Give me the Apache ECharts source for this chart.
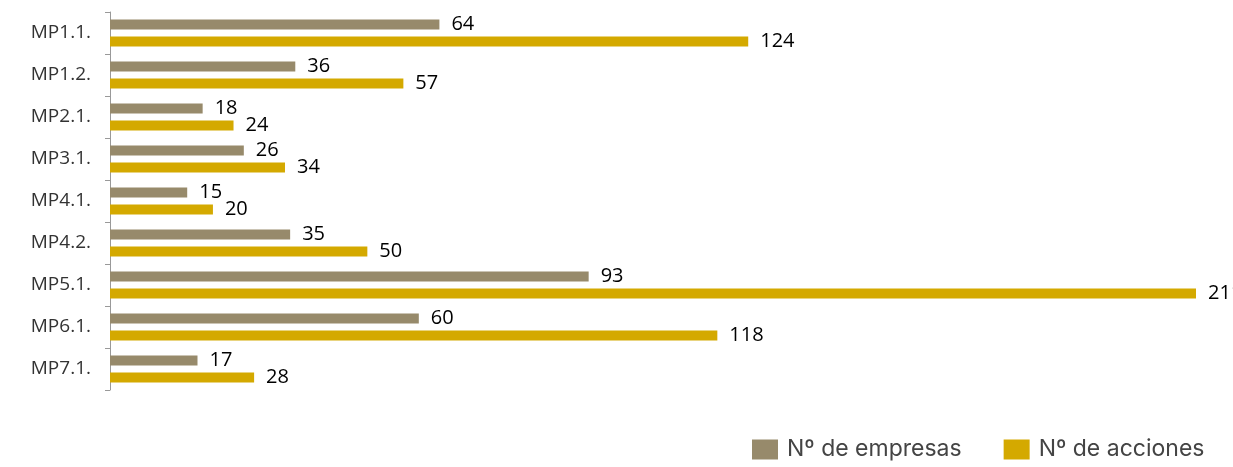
<!DOCTYPE html>
<html>
<head>
<meta charset="utf-8">
<script src="https://cdn.jsdelivr.net/npm/echarts@6/dist/echarts.min.js"></script>
<style>
  html, body { margin: 0; padding: 0; background: #fff; }
  #main { width: 1233px; height: 467px; }
</style>
</head>
<body>
<div id="main"></div>
<script>
// categorias (de arriba abajo)
const categories = ['MP1.1.', 'MP1.2.', 'MP2.1.', 'MP3.1.', 'MP4.1.', 'MP4.2.', 'MP5.1.', 'MP6.1.', 'MP7.1.']
const empresas = [64, 36, 18, 26, 15, 35, 93, 60, 17]
const acciones = [124, 57, 24, 34, 20, 50, 211, 118, 28]

const myChart = echarts.init(document.getElementById('main'))

const labelStyle = {
  show: true,
  position: 'right',
  distance: 12,
  color: '#000',
  fontSize: 20,
  fontWeight: 500,
  fontFamily: 'Open Sans'
}

const option = {
  animation: false,
  textStyle: { fontFamily: 'Open Sans' },
  legend: {
    top: 433,
    left: 747,
    itemWidth: 26,
    itemHeight: 20,
    itemGap: 42,
    icon: 'rect',
    textStyle: { color: '#444', fontSize: 23, fontFamily: 'Inter', padding: [0, 0, 0, 4] },
    data: ['Nº de empresas', 'Nº de acciones']
  },
  grid: {
    left: 110,
    right: 37,
    top: 12,
    bottom: 77
  },
  xAxis: {
    type: 'value',
    min: 0,
    max: 211,
    show: false
  },
  yAxis: {
    type: 'category',
    inverse: true,
    data: categories,
    axisLine: { show: true, lineStyle: { color: '#999', width: 1 } },
    axisTick: { show: true, length: 5, lineStyle: { color: '#999' } },
    axisLabel: { color: '#333', fontSize: 19, margin: 19, fontFamily: 'Open Sans' }
  },
  series: [
    {
      name: 'Nº de empresas',
      type: 'bar',
      data: empresas,
      barWidth: 10,
      barGap: '70%',
      itemStyle: { color: '#978a6b' },
      label: labelStyle
    },
    {
      name: 'Nº de acciones',
      type: 'bar',
      data: acciones,
      barWidth: 10,
      itemStyle: { color: '#d4a900' },
      label: labelStyle
    }
  ]
}
myChart.setOption(option)
</script>
</body>
</html>
